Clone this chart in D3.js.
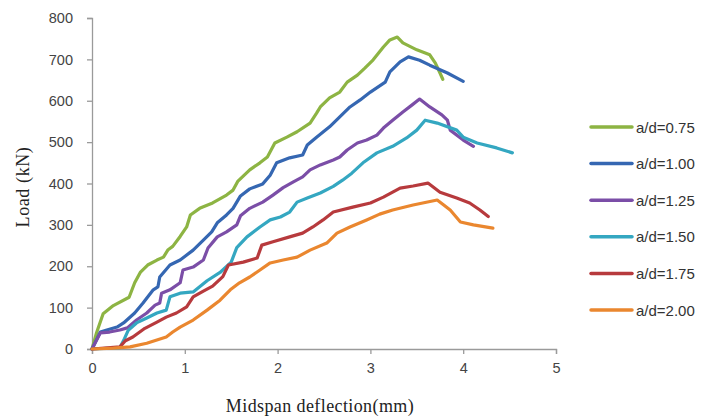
<!DOCTYPE html>
<html>
<head>
<style>
  body{
    margin: 0;
    background: white;
  }
  .tick text{
    font-family: 'Liberation Sans', sans-serif;
    font-size: 14.5px;
    fill: #444;
  }
</style>
</head>
<body>
  <svg id='svgVis'></svg>

<script src="https://cdn.jsdelivr.net/npm/d3@7/dist/d3.min.js"></script>
<script>

// series data: [midspan deflection (mm), load (kN)]
var ad075 = [[0,0],[0.05,40],[0.12,85],[0.23,105],[0.4,125],[0.46,160],[0.52,185],[0.6,203],[0.7,215],[0.77,222],[0.82,240],[0.87,248],[0.95,272],[1.02,295],[1.06,324],[1.16,340],[1.3,353],[1.45,372],[1.52,384],[1.57,405],[1.7,433],[1.81,450],[1.89,464],[1.97,498],[2.1,512],[2.21,525],[2.35,546],[2.42,570],[2.46,585],[2.56,607],[2.67,621],[2.75,645],[2.86,662],[2.94,679],[3.03,699],[3.14,730],[3.21,747],[3.29,754],[3.35,740],[3.5,723],[3.64,711],[3.7,691],[3.75,667],[3.78,652]];

var ad100 = [[0,0],[0.09,41],[0.16,46],[0.27,53],[0.34,63],[0.46,87],[0.55,111],[0.66,143],[0.71,150],[0.73,174],[0.84,203],[0.95,215],[1.09,239],[1.2,263],[1.29,283],[1.35,305],[1.45,324],[1.52,340],[1.6,370],[1.7,387],[1.84,399],[1.92,420],[1.99,450],[2.13,462],[2.27,469],[2.32,493],[2.42,512],[2.56,537],[2.67,561],[2.78,585],[2.89,602],[3.0,621],[3.16,645],[3.21,670],[3.32,694],[3.41,706],[3.53,698],[3.64,686],[3.83,667],[4.0,647]];

var ad125 = [[0,0],[0.09,39],[0.19,41],[0.3,46],[0.38,51],[0.48,70],[0.59,87],[0.68,106],[0.73,111],[0.75,135],[0.84,143],[0.95,160],[0.98,191],[1.09,198],[1.2,215],[1.25,244],[1.35,271],[1.45,283],[1.56,300],[1.6,322],[1.7,340],[1.84,355],[1.95,372],[2.06,390],[2.17,404],[2.27,416],[2.35,433],[2.46,445],[2.6,457],[2.67,464],[2.75,481],[2.86,498],[2.96,505],[3.07,517],[3.14,534],[3.24,553],[3.35,573],[3.45,590],[3.53,604],[3.64,585],[3.77,566],[3.83,553],[3.86,529],[4.0,505],[4.11,490]];

var ad150 = [[0,0],[0.3,3],[0.35,25],[0.39,45],[0.48,63],[0.59,75],[0.7,87],[0.8,94],[0.84,126],[0.95,135],[1.09,138],[1.24,165],[1.38,185],[1.5,210],[1.56,245],[1.67,271],[1.81,295],[1.92,312],[2.03,319],[2.13,331],[2.21,355],[2.32,365],[2.46,377],[2.6,393],[2.7,408],[2.8,425],[2.92,450],[3.07,474],[3.24,490],[3.39,510],[3.5,529],[3.59,553],[3.72,546],[3.93,529],[4.0,512],[4.15,498],[4.36,486],[4.53,474]];

var ad175 = [[0,0],[0.3,5],[0.36,20],[0.44,29],[0.57,50],[0.7,65],[0.8,77],[0.91,87],[1.02,102],[1.09,126],[1.2,140],[1.3,152],[1.41,175],[1.47,203],[1.63,210],[1.78,220],[1.83,251],[1.95,259],[2.13,271],[2.27,280],[2.38,295],[2.49,312],[2.6,331],[2.81,343],[3.0,353],[3.14,367],[3.32,389],[3.46,394],[3.62,401],[3.75,379],[3.93,365],[4.07,353],[4.18,336],[4.27,320]];

var ad200 = [[0,0],[0.23,2],[0.41,5],[0.59,14],[0.8,29],[0.87,41],[0.95,53],[1.09,70],[1.24,94],[1.38,118],[1.49,143],[1.59,160],[1.7,174],[1.81,191],[1.92,208],[2.06,215],[2.21,222],[2.35,239],[2.53,256],[2.64,280],[2.78,295],[2.96,312],[3.1,326],[3.24,336],[3.46,348],[3.72,360],[3.86,336],[3.97,307],[4.11,300],[4.32,292]];

var seriesNames = ['a/d=0.75', 'a/d=1.00', 'a/d=1.25', 'a/d=1.50', 'a/d=1.75', 'a/d=2.00'];
var seriesData = [ad075, ad100, ad125, ad150, ad175, ad200];
var seriesColors = ['#8db443', '#3567b2', '#7b4ea7', '#34a7c1', '#b73a3d', '#ea872f'];

var xTicks = [0, 1, 2, 3, 4, 5];
var yTicks = [0, 100, 200, 300, 400, 500, 600, 700, 800];

var windowWidth = 715,
    windowHeight = 418;

var margin = {top: 18, right: 159, bottom: 69, left: 92},
    width = windowWidth - margin.left - margin.right,
    height = windowHeight - margin.top - margin.bottom;

var svgRoot = d3.select("#svgVis")
    .attr("width", windowWidth)
    .attr("height", windowHeight);

var svg = svgRoot.append("g")
    .attr("transform", "translate(" + margin.left + "," + margin.top + ")");

var x = d3.scaleLinear().domain([0, 5]).range([0, width]);
var y = d3.scaleLinear().domain([0, 800]).range([height, 0]);

// axes
var xAxis = svg.append("g")
    .attr("transform", "translate(0," + height + ")")
    .call(d3.axisBottom(x).tickValues(xTicks).tickSize(5).tickPadding(9).tickFormat(d3.format("d")));

var yAxis = svg.append("g")
    .call(d3.axisLeft(y).tickValues(yTicks).tickSize(5).tickPadding(14).tickFormat(d3.format("d")));

svg.selectAll(".domain, .tick line")
  .attr("stroke", "#9a9a9a")
  .attr("stroke-width", 1.3);

// lines
var line = d3.line()
    .x(function(d) { return x(d[0]); })
    .y(function(d) { return y(d[1]); });

svg.selectAll(".series")
  .data(seriesData)
  .enter()
  .append("path")
  .attr("class", "series")
  .attr("d", line)
  .attr("fill", "none")
  .attr("stroke", function(d, i) { return seriesColors[i]; })
  .attr("stroke-width", 3.2)
  .attr("stroke-linejoin", "round")
  .attr("stroke-linecap", "round");

// axis titles
svgRoot.append("text")
  .attr("x", 320)
  .attr("y", 412)
  .attr("text-anchor", "middle")
  .style("font-family", "'Liberation Serif', serif")
  .style("font-size", "18px")
  .style("letter-spacing", "0.4px")
  .style("fill", "#222")
  .text("Midspan deflection(mm)");

svgRoot.append("text")
  .attr("transform", "translate(29,187) rotate(-90)")
  .attr("text-anchor", "middle")
  .style("font-family", "'Liberation Serif', serif")
  .style("font-size", "18px")
  .style("letter-spacing", "0.6px")
  .style("fill", "#222")
  .text("Load (kN)");

// legend
var legend = svgRoot.append("g")
  .attr("transform", "translate(591,127)");

var legendItem = legend.selectAll(".legendItem")
  .data(seriesNames)
  .enter()
  .append("g")
  .attr("class", "legendItem")
  .attr("transform", function(d, i) { return "translate(0," + (i * 36.6) + ")"; });

legendItem.append("line")
  .attr("x1", 0)
  .attr("x2", 41)
  .attr("stroke", function(d, i) { return seriesColors[i]; })
  .attr("stroke-width", 3.5)
  .attr("stroke-linecap", "round");

legendItem.append("text")
  .attr("x", 45)
  .attr("y", 5.5)
  .style("font-family", "'Liberation Sans', sans-serif")
  .style("font-size", "15px")
  .style("fill", "#333")
  .text(function(d) { return d; });

</script>
</body>
</html>
